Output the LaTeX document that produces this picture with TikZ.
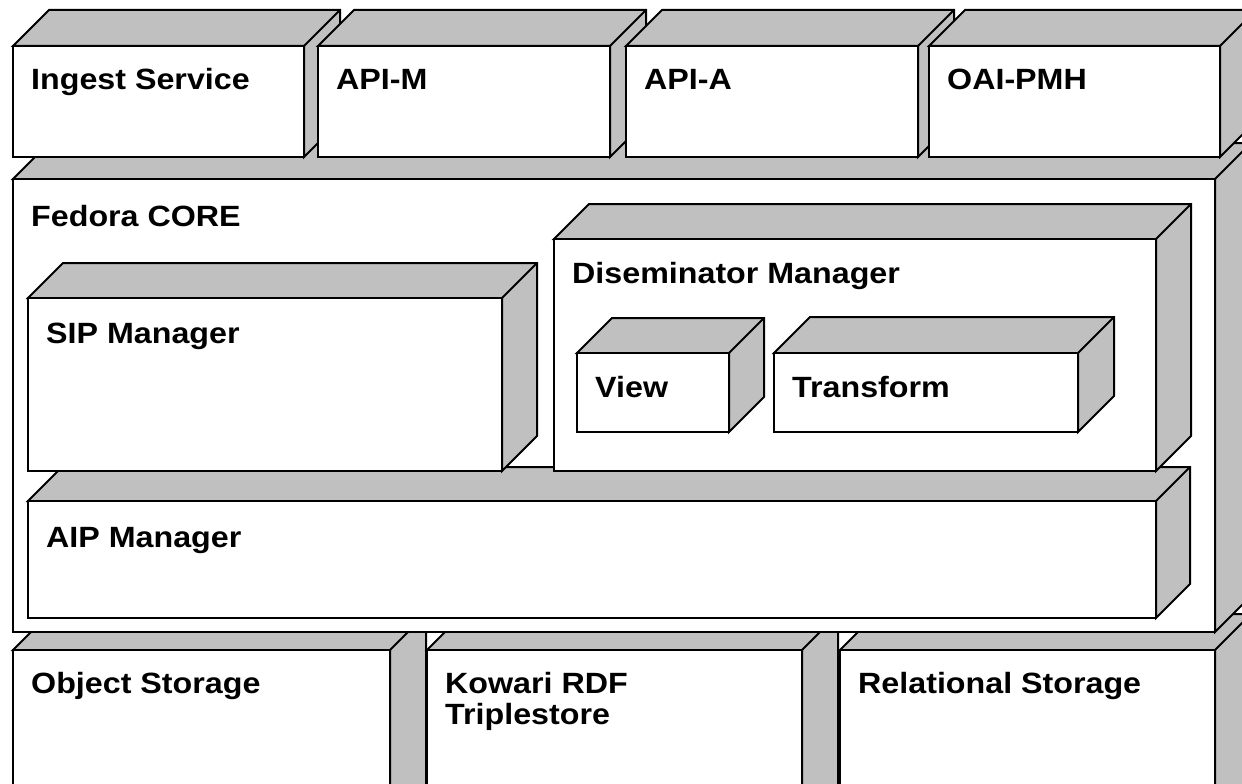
\documentclass[tikz,border=0pt]{standalone}
\usepackage{fontspec}
\setmainfont{Liberation Sans}[FakeStretch=1.1]
\tikzset{
  face/.style={fill=boxgray,draw=black,line width=2pt,line join=miter},
  front/.style={fill=white,draw=black,line width=2pt,rectangle,inner sep=0pt,outer sep=0pt,anchor=north west},
  lbl/.style={anchor=base west,inner sep=0pt,font=\bfseries\fontsize{29.3}{31}\selectfont,text=black}
}
\definecolor{boxgray}{HTML}{C0C0C0}
% #1 name, #2 x1, #3 y1, #4 x2, #5 y2, #6 depth, #7 label offset y, #8 text
\newcommand\umlbox[8]{%
  \filldraw[face] (#2,#3) -- ++(#6,-#6) -- (#4+#6,#3-#6) -- (#4+#6,#5-#6) -- (#4,#5) -- (#4,#3) -- cycle;
  \draw[line width=2pt] (#4,#3) -- ++(#6,-#6);
  \node[front,minimum width={(#4-#2)*1pt},minimum height={(#5-#3)*1pt}] (#1) at (#2,#3) {};
  \node[lbl] (#1-l) at ([shift={(18,#7)}]#1.north west) {#8};
}
\begin{document}
\begin{tikzpicture}[x=1pt,y=-1pt]
\useasboundingbox (0,0) rectangle (1242,784);
\clip (0,0) rectangle (1242,784);
\fill[white] (0,0) rectangle (1242,784);
% bottom storage row
\umlbox{obj}{13}{650}{390}{830}{36}{43}{Object Storage}
\umlbox{kow}{427}{650}{802}{830}{36}{43}{\begin{tabular}[t]{@{}l@{}}Kowari RDF\\Triplestore\end{tabular}}
\umlbox{rel}{840}{650}{1215}{830}{36}{43}{Relational Storage}
% core
\umlbox{core}{13}{179}{1215}{632}{36}{47}{Fedora CORE}
% top service row
\umlbox{ingest}{13}{46}{304}{157}{36}{43}{Ingest Service}
\umlbox{apim}{318}{46}{610}{157}{36}{43}{API-M}
\umlbox{apia}{626}{46}{918}{157}{36}{43}{API-A}
\umlbox{oai}{929}{46}{1220}{157}{36}{43}{OAI-PMH}
% inside core
\umlbox{aip}{28}{501}{1156}{618}{34}{46}{AIP Manager}
\umlbox{sip}{28}{298}{502}{471}{35}{45}{SIP Manager}
\umlbox{dis}{554}{239}{1156}{471}{35}{44}{Diseminator Manager}
\umlbox{view}{577}{353}{729}{432}{35}{44}{View}
\umlbox{trans}{774}{353}{1078}{432}{36}{44}{Transform}
\end{tikzpicture}
\end{document}
